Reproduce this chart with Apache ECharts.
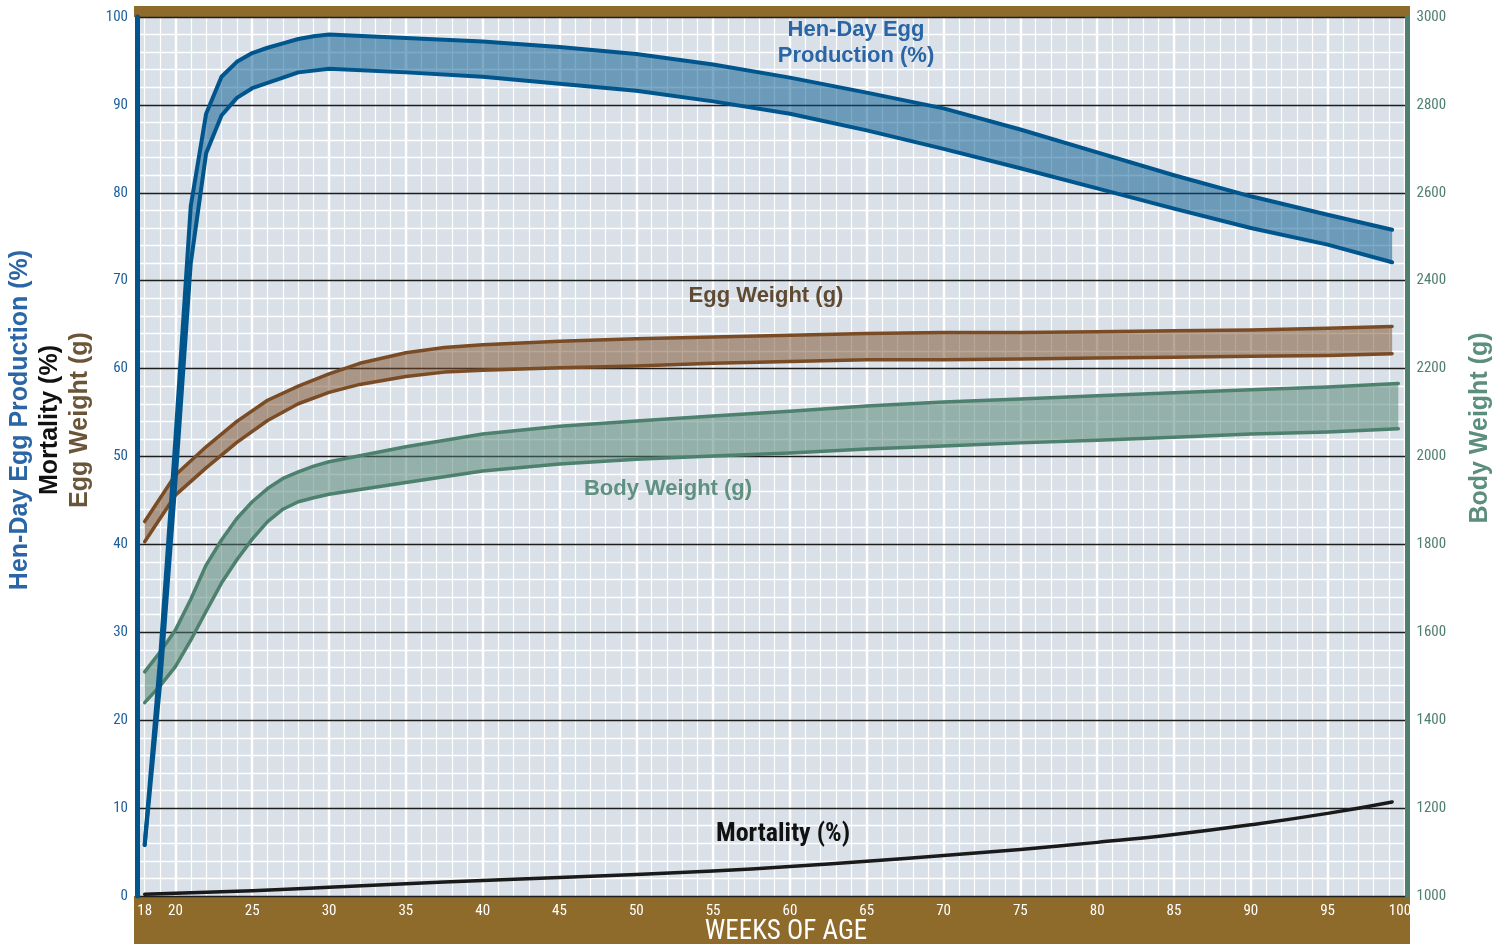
<!DOCTYPE html>
<html><head><meta charset="utf-8">
<script src="https://cdn.jsdelivr.net/npm/echarts@6/dist/echarts.min.js"></script>
<style>html,body{margin:0;padding:0;background:#fff}#c{width:1509px;height:944px}</style>
</head><body><div id="c"></div>
<script>
// ---- tick labels ----
const xTickLabels = [18, 20, 25, 30, 35, 40, 45, 50, 55, 60, 65, 70, 75, 80, 85, 90, 95, 100];

// ---- Hen-Day Egg Production (%) band ----
const weeksHen = [18, 19, 20, 21, 22, 23, 24, 25, 26, 27, 28, 29, 30, 35, 40, 45, 50, 55, 60, 65, 70, 75, 80, 85, 90, 95, 99.2];
const henUpper = [5.8, 27, 52, 78.5, 89, 93.2, 94.9, 95.9, 96.5, 97.0, 97.5, 97.8, 98.0, 97.6, 97.2, 96.6, 95.8, 94.6, 93.1, 91.4, 89.6, 87.2, 84.6, 82.0, 79.6, 77.5, 75.8];
const henLower = [5.8, 24, 47, 72, 84.5, 88.8, 90.8, 91.9, 92.5, 93.1, 93.7, 93.9, 94.1, 93.7, 93.2, 92.4, 91.6, 90.4, 89.0, 87.1, 85.0, 82.8, 80.5, 78.2, 76.0, 74.1, 72.1];

// ---- Egg Weight (g) band ----
const weeksEgg = [18, 20, 22, 24, 26, 28, 30, 32, 35, 37.5, 40, 45, 50, 55, 60, 65, 70, 75, 80, 85, 90, 95, 99.2];
const eggUpper = [42.6, 47.9, 51.1, 54.0, 56.4, 58.0, 59.4, 60.6, 61.8, 62.4, 62.7, 63.1, 63.4, 63.6, 63.8, 64.0, 64.1, 64.1, 64.2, 64.3, 64.4, 64.6, 64.8];
const eggLower = [40.3, 45.6, 48.7, 51.6, 54.1, 56.0, 57.3, 58.2, 59.1, 59.6, 59.8, 60.1, 60.3, 60.6, 60.8, 61.0, 61.0, 61.1, 61.2, 61.3, 61.4, 61.5, 61.7];

// ---- Body Weight (g) band (right axis) ----
const weeksBody = [18, 19, 20, 21, 22, 23, 24, 25, 26, 27, 28, 29, 30, 35, 40, 45, 50, 55, 60, 65, 70, 75, 80, 85, 90, 95, 99.6];
const bodyUpper = [1510, 1555, 1605, 1675, 1753, 1810, 1859, 1897, 1927, 1950, 1965, 1978, 1988, 2022, 2051, 2069, 2081, 2092, 2103, 2115, 2124, 2131, 2138, 2145, 2152, 2158, 2166];
const bodyLower = [1440, 1478, 1522, 1582, 1648, 1712, 1765, 1812, 1852, 1880, 1897, 1906, 1914, 1941, 1967, 1983, 1994, 2001, 2008, 2017, 2024, 2031, 2037, 2044, 2051, 2056, 2063];

// ---- Mortality (%) ----
const weeksMort = [18, 25, 30, 35, 40, 45, 50, 55, 60, 65, 70, 75, 80, 85, 90, 95, 99.2];
const mortality = [0.2, 0.6, 1.0, 1.4, 1.75, 2.1, 2.45, 2.85, 3.35, 3.95, 4.6, 5.3, 6.1, 7.0, 8.1, 9.4, 10.7];

// grid-line positions (weeks)
const minorWeeks = []; for (let w = 18; w <= 100; w++) minorWeeks.push(w);
const majorWeeks = []; for (let w = 20; w <= 100; w += 5) majorWeeks.push(w);

const NARROW = '"Liberation Sans Narrow", "Roboto Condensed", "Arial Narrow", sans-serif';
const SANS = '"Liberation Sans", Arial, Helvetica, sans-serif';

const BLUE = '#00558c', BROWN = '#7a4c25', GREEN = '#4e806e', BAND = '#8e6a2b';

function band(name, weeks, lower, upper, yIdx, fill) {
  return {
    type: 'custom', name: name + ' band', xAxisIndex: 0, yAxisIndex: yIdx, z: 2, silent: true, clip: true,
    data: weeks.map((w, i) => [w, lower[i], upper[i]]),
    encode: { x: 0, y: [1, 2] },
    renderItem: function (params, api) {
      if (params.dataIndex !== 0) return null;
      const pts = [];
      for (let i = 0; i < weeks.length; i++) pts.push(api.coord([weeks[i], upper[i]]));
      for (let i = weeks.length - 1; i >= 0; i--) pts.push(api.coord([weeks[i], lower[i]]));
      return { type: 'polygon', shape: { points: pts }, style: { fill: fill } };
    }
  };
}
function line(name, weeks, vals, yIdx, color, width, smooth) {
  return {
    type: 'line', name: name, xAxisIndex: 0, yAxisIndex: yIdx, z: 3, symbol: 'none', smooth: !!smooth,
    data: weeks.map((w, i) => [w, vals[i]]),
    lineStyle: { color: color, width: width, cap: 'round', join: 'round' }
  };
}

const chart = echarts.init(document.getElementById('c'), null, { renderer: 'canvas' });
chart.setOption({
  animation: false,
  backgroundColor: '#ffffff',
  grid: { left: 137, right: 101.5, top: 17, bottom: 48, show: true, backgroundColor: '#d9e0e8', borderWidth: 0, containLabel: false, outerBoundsMode: 'none' },
  xAxis: [
    { type: 'value', min: 17.5, max: 100.2, position: 'bottom', z: 0,
      axisLine: { show: false }, axisTick: { show: false, customValues: minorWeeks },
      axisLabel: { customValues: xTickLabels, color: '#ffffff', fontFamily: NARROW, fontSize: 15, margin: 8,
        formatter: v => (v === 100 ? '{e|100}' : String(v)),
        rich: { e: { color: '#ffffff', fontFamily: NARROW, fontSize: 15, padding: [0, 9, 0, 0] } } },
      splitLine: { show: true, lineStyle: { color: '#ffffff', width: 1.2 } } },
    { type: 'value', min: 17.5, max: 100.2, position: 'bottom', z: 0,
      axisLine: { show: false }, axisTick: { show: false, customValues: majorWeeks },
      axisLabel: { show: false },
      splitLine: { show: true, lineStyle: { color: '#ffffff', width: 2.4 } } }
  ],
  yAxis: [
    { type: 'value', min: 0, max: 100, interval: 10, position: 'left', z: 1,
      axisLine: { show: true, lineStyle: { color: BLUE, width: 5 } }, axisTick: { show: false },
      axisLabel: { color: '#1f5f9b', fontFamily: NARROW, fontSize: 15, margin: 9 },
      splitLine: { show: true, lineStyle: { color: '#1e1e1e', width: 1.3 } },
      minorTick: { show: false, splitNumber: 5 },
      minorSplitLine: { show: true, lineStyle: { color: '#ffffff', width: 1.4 } } },
    { type: 'value', min: 1000, max: 3000, interval: 200, position: 'right', z: 1,
      axisLine: { show: true, lineStyle: { color: GREEN, width: 5 } }, axisTick: { show: false },
      axisLabel: { color: '#4f7f70', fontFamily: NARROW, fontSize: 15, margin: 9, formatter: v => String(v) },
      splitLine: { show: false } }
  ],
  graphic: [
    { type: 'rect', z: -1, shape: { x: 134, y: 6, width: 1276, height: 11 }, style: { fill: BAND } },
    { type: 'rect', z: -1, shape: { x: 134, y: 896, width: 1276, height: 48 }, style: { fill: BAND } },
    { type: 'text', x: 786, y: 932, style: { text: 'WEEKS OF AGE', fill: '#ffffff', fontFamily: NARROW, fontSize: 27, align: 'center', verticalAlign: 'middle' } },
    { type: 'text', x: 20, y: 420, rotation: Math.PI / 2, style: { text: 'Hen-Day Egg Production (%)', fill: '#2a65a5', fontFamily: SANS, fontWeight: 'bold', fontSize: 25, align: 'center', verticalAlign: 'middle' } },
    { type: 'text', x: 50, y: 420, rotation: Math.PI / 2, style: { text: 'Mortality (%)', fill: '#111111', fontFamily: SANS, fontWeight: 'bold', fontSize: 25, align: 'center', verticalAlign: 'middle' } },
    { type: 'text', x: 80, y: 420, rotation: Math.PI / 2, style: { text: 'Egg Weight (g)', fill: '#6b5538', fontFamily: SANS, fontWeight: 'bold', fontSize: 25, align: 'center', verticalAlign: 'middle' } },
    { type: 'text', x: 1480, y: 428, rotation: Math.PI / 2, style: { text: 'Body Weight (g)', fill: '#5b8e7c', fontFamily: SANS, fontWeight: 'bold', fontSize: 25, align: 'center', verticalAlign: 'middle' } },
    { type: 'text', x: 856, y: 43, z: 10, style: { text: 'Hen-Day Egg\nProduction (%)', fill: '#2a65a5', fontFamily: SANS, fontWeight: 'bold', fontSize: 22, lineHeight: 26, align: 'center', verticalAlign: 'middle' } },
    { type: 'text', x: 766, y: 296, z: 10, style: { text: 'Egg Weight (g)', fill: '#5f4b33', fontFamily: SANS, fontWeight: 'bold', fontSize: 22, align: 'center', verticalAlign: 'middle' } },
    { type: 'text', x: 668, y: 489, z: 10, style: { text: 'Body Weight (g)', fill: '#5f9080', fontFamily: SANS, fontWeight: 'bold', fontSize: 22, align: 'center', verticalAlign: 'middle' } },
    { type: 'text', x: 783, y: 834, z: 10, style: { text: 'Mortality (%)', fill: '#111111', fontFamily: NARROW, fontWeight: 'bold', fontSize: 26, align: 'center', verticalAlign: 'middle' } }
  ],
  series: [
    band('Body Weight', weeksBody, bodyLower, bodyUpper, 1, 'rgba(78,128,110,0.5)'),
    band('Egg Weight', weeksEgg, eggLower, eggUpper, 0, 'rgba(122,76,37,0.5)'),
    band('Hen-Day', weeksHen, henLower, henUpper, 0, 'rgba(0,85,140,0.5)'),
    line('Body Weight upper', weeksBody, bodyUpper, 1, GREEN, 3.5),
    line('Body Weight lower', weeksBody, bodyLower, 1, GREEN, 3.5),
    line('Egg Weight upper', weeksEgg, eggUpper, 0, BROWN, 3.5),
    line('Egg Weight lower', weeksEgg, eggLower, 0, BROWN, 3.5),
    line('Hen-Day upper', weeksHen, henUpper, 0, BLUE, 4),
    line('Hen-Day lower', weeksHen, henLower, 0, BLUE, 4),
    line('Mortality', weeksMort, mortality, 0, '#1a1a1a', 3.5, true)
  ]
});
</script>
</body></html>
